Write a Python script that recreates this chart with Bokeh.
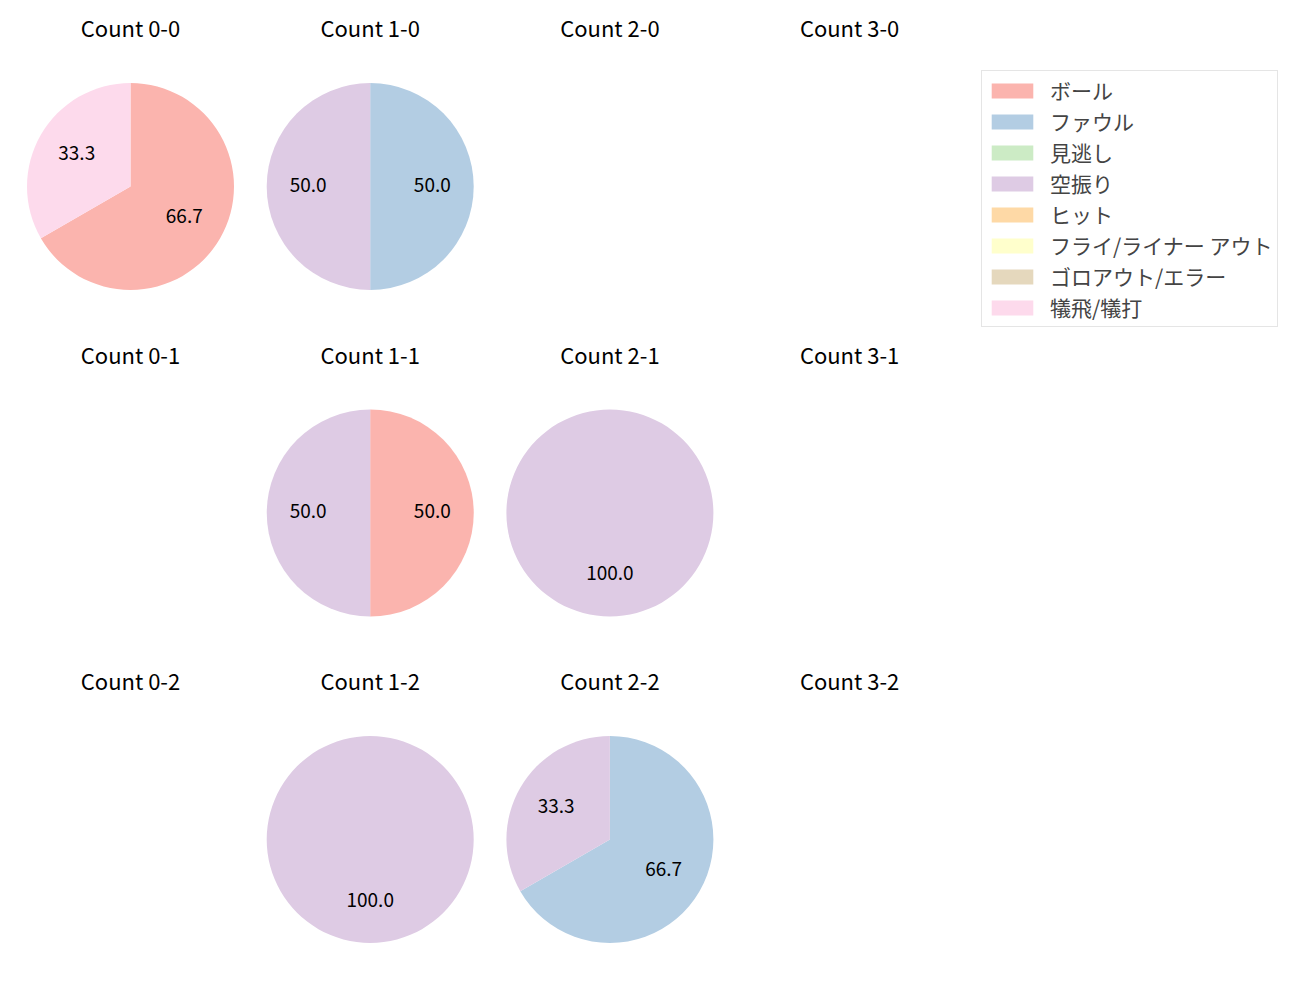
import math
from bokeh.plotting import figure
from bokeh.models import Range1d, ColumnDataSource, Legend, LegendItem
from bokeh.core.properties import value
from bokeh.embed import file_html
from bokeh.resources import INLINE

categories = ["ボール", "ファウル", "見逃し", "空振り", "ヒット",
              "フライ/ライナー アウト", "ゴロアウト/エラー", "犠飛/犠打"]
colors = ["#fbb4ae", "#b3cde3", "#ccebc5", "#decbe4", "#fed9a6",
          "#ffffcc", "#e5d8bd", "#fddaec"]

balls = [0, 1, 2, 3]
strikes = [0, 1, 2]
# pitch-result counts per ball-strike count, ordered like categories
count_0_0 = [2, 0, 0, 0, 0, 0, 0, 1]
count_1_0 = [0, 1, 0, 1, 0, 0, 0, 0]
count_2_0 = [0, 0, 0, 0, 0, 0, 0, 0]
count_3_0 = [0, 0, 0, 0, 0, 0, 0, 0]
count_0_1 = [0, 0, 0, 0, 0, 0, 0, 0]
count_1_1 = [1, 0, 0, 1, 0, 0, 0, 0]
count_2_1 = [0, 0, 0, 1, 0, 0, 0, 0]
count_3_1 = [0, 0, 0, 0, 0, 0, 0, 0]
count_0_2 = [0, 0, 0, 0, 0, 0, 0, 0]
count_1_2 = [0, 0, 0, 1, 0, 0, 0, 0]
count_2_2 = [0, 2, 0, 1, 0, 0, 0, 0]
count_3_2 = [0, 0, 0, 0, 0, 0, 0, 0]

counts = {
    (0, 0): count_0_0, (1, 0): count_1_0, (2, 0): count_2_0, (3, 0): count_3_0,
    (0, 1): count_0_1, (1, 1): count_1_1, (2, 1): count_2_1, (3, 1): count_3_1,
    (0, 2): count_0_2, (1, 2): count_1_2, (2, 2): count_2_2, (3, 2): count_3_2,
}

W, H = 1300, 1000
X0, DX = 130.0, 239.7
Y0, DY = 186.0, 326.5
R = 103.5
TITLE_OFF = 159.5
FONT = "Noto Sans CJK JP"

p = figure(width=W, height=H, x_range=Range1d(0, W), y_range=Range1d(0, H),
           output_backend="svg", toolbar_location=None, min_border=0)
p.axis.visible = False
p.grid.visible = False
p.outline_line_color = None

wedge_data = {i: dict(x=[], y=[], r=[], s=[], e=[]) for i in range(len(categories))}
lab = dict(x=[], y=[], t=[])
tit = dict(x=[], y=[], t=[])

for (b, s), vals in counts.items():
    cx = X0 + DX * b
    cy = H - (Y0 + DY * s)
    tit["x"].append(cx)
    tit["y"].append(cy + TITLE_OFF)
    tit["t"].append(f"Count {b}-{s}")
    total = sum(vals)
    if total == 0:
        continue
    cum = 0.0
    for i, v in enumerate(vals):
        if v == 0:
            continue
        frac = v / total
        a_start = 90 - 360 * cum
        a_end = 90 - 360 * (cum + frac)
        span = min(a_start - a_end, 359.999)
        d = wedge_data[i]
        d["x"].append(cx)
        d["y"].append(cy)
        d["r"].append(R)
        d["s"].append(math.radians(a_start - span))
        d["e"].append(math.radians(a_start))
        mid = math.radians(90 - 360 * (cum + frac / 2))
        lab["x"].append(cx + 0.6 * R * math.cos(mid))
        lab["y"].append(cy + 0.6 * R * math.sin(mid))
        lab["t"].append(f"{100 * frac:.1f}")
        cum += frac

# zero-size placeholder so unused categories still get a legend swatch
for i, d in wedge_data.items():
    if not d["x"]:
        d["x"].append(X0)
        d["y"].append(H - Y0)
        d["r"].append(0.0)
        d["s"].append(0.0)
        d["e"].append(0.0)

items = []
for i, cat in enumerate(categories):
    src = ColumnDataSource(wedge_data[i])
    r = p.wedge(x="x", y="y", radius="r", start_angle="s", end_angle="e",
                source=src, fill_color=colors[i], line_color=None)
    items.append(LegendItem(label=cat, renderers=[r], index=0))

p.text(x="x", y="y", text="t", source=ColumnDataSource(lab),
       text_align="center", text_baseline="middle", text_font=value(FONT),
       text_font_size="19px", text_color="#000000", y_offset=-2)
p.text(x="x", y="y", text="t", source=ColumnDataSource(tit),
       text_align="center", text_baseline="middle", text_font=value(FONT),
       text_font_size="22px", text_color="#000000")

legend = Legend(items=items, location=(981, H - 327), orientation="vertical",
                glyph_width=52, glyph_height=19, label_standoff=12,
                label_height=20, spacing=1, padding=4, margin=0,
                label_text_font=FONT, label_text_font_size="21px",
                border_line_color="#cccccc", border_line_width=1,
                background_fill_alpha=1.0)
p.add_layout(legend, "center")

open("out.html", "w").write(file_html(p, INLINE))
